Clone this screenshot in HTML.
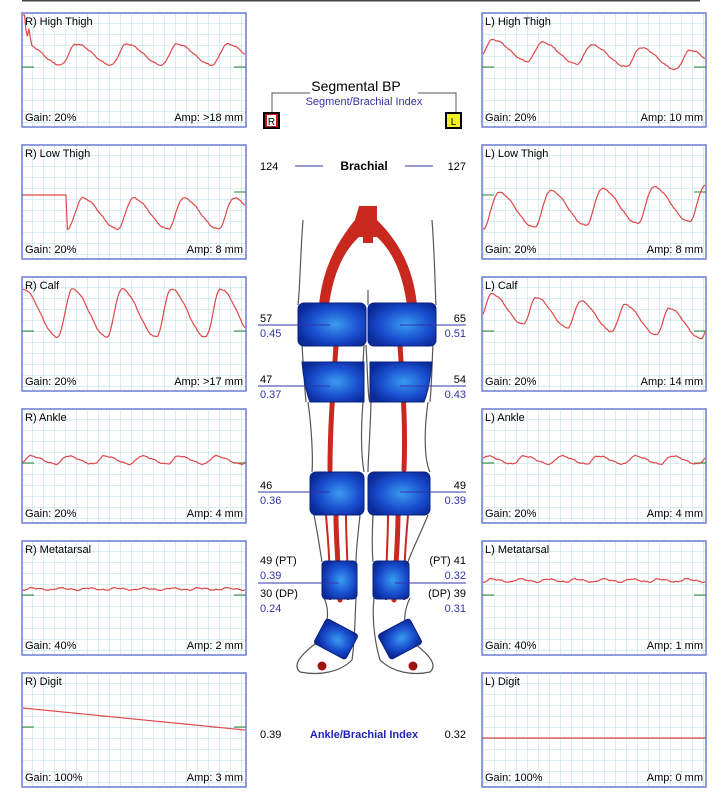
<!DOCTYPE html>
<html><head><meta charset="utf-8"><style>
html,body{margin:0;padding:0;background:#fff;width:721px;height:800px;overflow:hidden}
svg{display:block;font-family:"Liberation Sans",Arial,sans-serif}
</style></head><body>
<svg id="s" width="721" height="800" viewBox="0 0 721 800" xmlns="http://www.w3.org/2000/svg">
<defs>
<pattern id="g" x="22" y="13" width="11" height="11" patternUnits="userSpaceOnUse">
<path d="M11 0V11M0 11H11" stroke="#b9dbe6" stroke-width="1" fill="none"/>
</pattern>
<radialGradient id="cf" cx="0.55" cy="0.5" r="0.6">
<stop offset="0" stop-color="#3a9cf0"/><stop offset="0.6" stop-color="#1a4fd0"/><stop offset="1" stop-color="#0a2a9a"/>
</radialGradient>
</defs>
<line x1="22" y1="0.5" x2="700" y2="0.5" stroke="#444" stroke-width="2"/>
<g id="panels"></g>

<text x="356" y="91" font-size="14" text-anchor="middle" fill="#000">Segmental BP</text>
<text x="364" y="105" font-size="11" text-anchor="middle" fill="#3333aa">Segment/Brachial Index</text>
<path d="M272 112V93H310M418 93H456V112" stroke="#555" fill="none"/>
<rect x="263" y="112" width="17" height="17" fill="#000"/><rect x="265" y="114" width="13" height="13" fill="#d01010"/>
<rect x="267" y="115" width="9" height="11" fill="#fff"/><text x="271.5" y="125" font-size="10" text-anchor="middle">R</text>
<rect x="445" y="112" width="17" height="17" fill="#000"/><rect x="447" y="114" width="13" height="13" fill="#f5f020"/>
<text x="453.5" y="125" font-size="10" text-anchor="middle">L</text>
<text x="260" y="170" font-size="11">124</text>
<line x1="295" y1="166" x2="323" y2="166" stroke="#3333aa"/>
<text x="364" y="170" font-size="12" font-weight="bold" text-anchor="middle">Brachial</text>
<line x1="405" y1="166" x2="433" y2="166" stroke="#3333aa"/>
<text x="466" y="170" font-size="11" text-anchor="end">127</text>

<g stroke="#555" fill="none" stroke-width="1.2">
<path d="M303 220 C300 260 300 290 298 305 M302 345 C303 360 304 380 306 402 M308 402 C312 430 313 460 312 472 M314 515 C318 535 320 550 322 562 M324 598 C330 610 328 625 320 640 C300 655 292 665 300 672 C320 676 340 672 352 660 C355 640 355 615 356 598"/>
<path d="M432 220 C435 260 435 290 436 305 M433 345 C432 360 432 380 430 402 M428 402 C424 430 424 460 430 472 M428 515 C420 535 412 550 408 562 M374 598 C372 615 374 640 380 660 C392 672 412 676 430 672 C438 665 430 655 410 640 C402 625 404 610 410 598"/>
<path d="M368 290V305 M364 345 C362 380 362 400 364 402 M366 345 C368 380 368 400 370 402 M363 402C360 440 362 460 364 472 M371 402C370 440 368 460 368 472 M360 515C358 535 356 550 356 562 M373 515C372 535 372 550 373 562"/>
</g>
<g fill="#c8281e">
<path d="M359 206h18v14c20 20 36 45 40 85h-10c-5-35-16-55-30-68h-4v6h-10v-6h-4c-14 13-25 33-30 68h-10c4-40 20-65 36-85z"/>
</g>
<g stroke="#c8281e" stroke-width="5" fill="none" stroke-linecap="round">
<path d="M336 345 C334 380 330 420 330 470 M336 515 C336 540 338 560 340 600 M400 345 C402 380 406 420 404 470 M398 515 C398 540 396 560 394 600"/>
</g>
<g stroke="#c8281e" stroke-width="2" fill="none">
<path d="M326 515 C328 540 330 560 330 600 M346 515 C346 540 348 560 348 600 M388 515 C388 540 386 560 386 600 M408 515 C406 540 404 560 404 600"/>
</g>
<g fill="url(#cf)" stroke="#0a2080" stroke-width="1">
<rect x="298" y="303" width="68" height="43" rx="6"/><rect x="368" y="303" width="68" height="43" rx="6"/>
<path d="M302 362H364V402H310C306 392 303 375 302 362Z"/><path d="M370 362H432C431 375 428 392 424 402H370Z"/>
<rect x="310" y="472" width="54" height="43" rx="6"/><rect x="368" y="472" width="62" height="43" rx="6"/>
<rect x="322" y="561" width="35" height="38" rx="4"/><rect x="373" y="561" width="36" height="38" rx="4"/>
<rect x="318" y="625" width="36" height="28" rx="3" transform="rotate(28 336 639)"/>
<rect x="382" y="625" width="36" height="28" rx="3" transform="rotate(-28 400 639)"/>
</g>
<circle cx="322" cy="666" r="4.5" fill="#a01010"/><circle cx="413" cy="666" r="4.5" fill="#a01010"/>

<g font-size="11">
<text x="260" y="322">57</text><text x="260" y="337" fill="#3333aa">0.45</text>
<text x="466" y="322" text-anchor="end">65</text><text x="466" y="337" text-anchor="end" fill="#3333aa">0.51</text>
<text x="260" y="383">47</text><text x="260" y="398" fill="#3333aa">0.37</text>
<text x="466" y="383" text-anchor="end">54</text><text x="466" y="398" text-anchor="end" fill="#3333aa">0.43</text>
<text x="260" y="489">46</text><text x="260" y="504" fill="#3333aa">0.36</text>
<text x="466" y="489" text-anchor="end">49</text><text x="466" y="504" text-anchor="end" fill="#3333aa">0.39</text>
<text x="260" y="564">49 (PT)</text><text x="260" y="579" fill="#3333aa">0.39</text>
<text x="260" y="597">30 (DP)</text><text x="260" y="612" fill="#3333aa">0.24</text>
<text x="466" y="564" text-anchor="end">(PT) 41</text><text x="466" y="579" text-anchor="end" fill="#3333aa">0.32</text>
<text x="466" y="597" text-anchor="end">(DP) 39</text><text x="466" y="612" text-anchor="end" fill="#3333aa">0.31</text>
<text x="260" y="738">0.39</text><text x="466" y="738" text-anchor="end">0.32</text>
<text x="364" y="738" text-anchor="middle" font-weight="bold" fill="#2222bb">Ankle/Brachial Index</text>
</g>
<g stroke="#3333aa" stroke-width="1">
<path d="M258 325H330M400 325H466M258 386H330M400 386H466M258 492H330M400 492H466M258 583H338M395 583H466"/>
</g>
</svg>
<script>
(function(){
var ns="http://www.w3.org/2000/svg",G=document.getElementById("panels");
var L=[["R) High Thigh","Gain: 20%","Amp: >18 mm"],["R) Low Thigh","Gain: 20%","Amp: 8 mm"],["R) Calf","Gain: 20%","Amp: >17 mm"],["R) Ankle","Gain: 20%","Amp: 4 mm"],["R) Metatarsal","Gain: 40%","Amp: 2 mm"],["R) Digit","Gain: 100%","Amp: 3 mm"]];
var R=[["L) High Thigh","Gain: 20%","Amp: 10 mm"],["L) Low Thigh","Gain: 20%","Amp: 8 mm"],["L) Calf","Gain: 20%","Amp: 14 mm"],["L) Ankle","Gain: 20%","Amp: 4 mm"],["L) Metatarsal","Gain: 40%","Amp: 1 mm"],["L) Digit","Gain: 100%","Amp: 0 mm"]];
var WL=[[31,52,4.4,0.25,0],[53,84,4.3,0.0,0],[12,60,4.5,0.3,0],[47,55,6,0.1,0],[47,49,8,0,0],[0,0,0,0,0]];
var WR=[[26,46,4.5,0.1,12],[48,84,4.3,0.0,-8],[16,44,5,0.1,18],[47,55,6,0.2,0],[38,41,8,0,0],[0,0,0,0,0]];
function el(t,a,p){var e=document.createElementNS(ns,t);for(var k in a)e.setAttribute(k,a[k]);(p||G).appendChild(e);return e;}
function panel(x,y,lab,W,side,i){
 el("rect",{x:x,y:y,width:224,height:114,fill:"url(#g)",stroke:"#6b7bd0","stroke-width":1.5});
 var mid=y+54;
 if(i==1)mid=y+50;
 if(i==5&&side)mid=y+65;
 el("line",{x1:x,y1:mid,x2:x+12,y2:mid,stroke:"#2a8a2a"});
 var rm=(i==1)?y+47:mid;
 el("line",{x1:x+212,y1:rm,x2:x+224,y2:rm,stroke:"#2a8a2a"});
 var d="",n=150;
 for(var k=0;k<=n;k++){var px=x+1+k*222/n,t=k/n,v;
  if(i==5){v=side?y+65:y+35+22*t;}
  else if(i==1&&!side&&t<0.2){v=y+50;}
  else{
   var tt=(i==1&&!side)?(t-0.2)/0.8*0.82:t;
   var ph=((tt*W[2]+W[3])%1+1)%1;
   var w;
   if(ph<0.3) w=0.5-0.5*Math.cos(ph/0.3*Math.PI);
   else w=0.5+0.5*Math.cos((ph-0.3)/0.7*Math.PI);
   v=y+W[0]+(1-w)*(W[1]-W[0])+W[4]*t+Math.sin(k*0.9)*0.5+Math.sin(k*2.3)*0.3;
   if(i==0&&!side&&t<0.04){v=y+(t<0.01?2:20+Math.sin(k*3)*8);}
  }
  d+=(k?"L":"M")+px.toFixed(1)+" "+v.toFixed(1);}
 el("path",{d:d,fill:"none",stroke:"#e04848","stroke-width":1.2});
 var t=el("text",{x:x+3,y:y+12,"font-size":11});t.textContent=lab[0];
 t=el("text",{x:x+3,y:y+108,"font-size":11});t.textContent=lab[1];
 t=el("text",{x:x+221,y:y+108,"font-size":11,"text-anchor":"end"});t.textContent=lab[2];
}
for(var i=0;i<6;i++){panel(22,13+i*132,L[i],WL[i],0,i);panel(482,13+i*132,R[i],WR[i],1,i);}
})();
</script>
</body></html>
